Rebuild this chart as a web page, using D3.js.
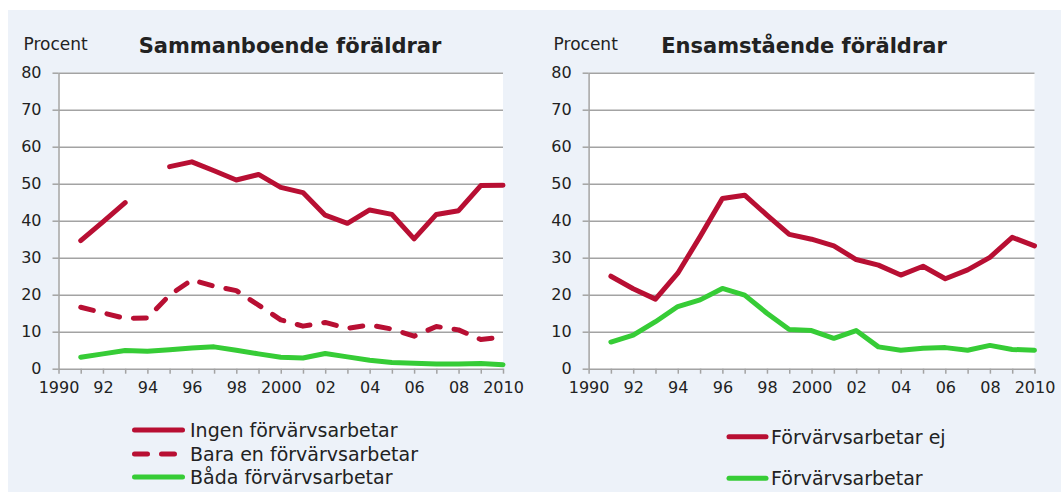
<!DOCTYPE html>
<html>
<head>
<meta charset="utf-8">
<script src="https://cdn.jsdelivr.net/npm/d3@7"></script>
<style>
  body { margin: 0; background: #fff; }
  svg text { font-family: "DejaVu Sans", sans-serif; fill: #222; }
</style>
</head>
<body>
<div id="chart"></div>
<script>
// years shown on the x axis (one point per year)
const years = [1991, 1992, 1993, 1994, 1995, 1996, 1997, 1998, 1999, 2000,
               2001, 2002, 2003, 2004, 2005, 2006, 2007, 2008, 2009, 2010];
const xTickYears = [1990, 1992, 1994, 1996, 1998, 2000, 2002, 2004, 2006, 2008, 2010];
const xTickLabels = ["1990", "92", "94", "96", "98", "2000", "02", "04", "06", "08", "2010"];
const yTicks = [0, 10, 20, 30, 40, 50, 60, 70, 80];

// Sammanboende föräldrar
const ingen = [34.6, 39.7, 44.9, null, 54.6, 55.9, 53.5, 51.0, 52.5, 49.0,
               47.6, 41.5, 39.3, 42.9, 41.7, 35.1, 41.7, 42.7, 49.5, 49.6];
const baraEn = [16.6, 15.1, 13.6, 13.7, 19.9, 24.0, 22.3, 21.1, 17.2, 13.2,
                11.5, 12.5, 10.9, 11.8, 10.7, 8.8, 11.4, 10.5, 7.9, 8.5];
const bada = [3.1, 4.0, 4.9, 4.7, 5.1, 5.6, 5.9, 5.0, 4.0, 3.1,
              2.9, 4.1, 3.2, 2.3, 1.7, 1.5, 1.3, 1.3, 1.4, 1.1];

// Ensamstående föräldrar
const ejArbete = [25.0, 21.6, 18.8, 25.8, 35.7, 46.0, 46.9, 41.5, 36.3, 35.0,
                  33.2, 29.5, 28.0, 25.3, 27.7, 24.3, 26.7, 30.1, 35.5, 33.2];
const arbete = [7.2, 9.1, 12.7, 16.8, 18.6, 21.7, 19.9, 15.0, 10.6, 10.3,
                8.2, 10.3, 5.9, 5.0, 5.5, 5.7, 5.0, 6.3, 5.2, 5.0];

const red = "#b80f33", green = "#36cc36", gridColor = "#a3a3a3";

const W = 1061, H = 493;
const svg = d3.select("#chart").append("svg")
    .attr("width", W)
    .attr("height", H);

// light background panel
svg.append("rect")
    .attr("x", 8).attr("y", 10)
    .attr("width", W - 8).attr("height", 482)
    .attr("fill", "#edf2f9");

const plotTop = 72.7, plotBottom = 368.7;

function drawPanel(left, right, title, titleX, series) {
    const x = d3.scaleLinear().domain([1990, 2010]).range([left, right]);
    const y = d3.scaleLinear().domain([0, 80]).range([plotBottom, plotTop]);
    const g = svg.append("g");

    g.append("rect")
        .attr("x", left).attr("y", plotTop)
        .attr("width", right - left).attr("height", plotBottom - plotTop)
        .attr("fill", "#fff");

    // y axis with gridlines
    const yAxis = g.append("g")
        .attr("transform", `translate(${left},0)`)
        .call(d3.axisLeft(y).tickValues(yTicks).tickSize(6).tickPadding(11).tickSizeOuter(0));
    yAxis.select(".domain").attr("stroke", gridColor).attr("stroke-width", 1.5);
    yAxis.selectAll(".tick line").attr("stroke", gridColor).attr("stroke-width", 1.5);
    yAxis.selectAll(".tick text").attr("font-size", 16).attr("fill", "#222")
        .attr("font-family", "DejaVu Sans");
    yAxis.selectAll(".tick").filter(d => d > 0).append("line")
        .attr("x1", 0).attr("x2", right - left)
        .attr("stroke", gridColor).attr("stroke-width", 1.5);

    // x axis: a tick every year, labels every second year
    const xAxis = g.append("g")
        .attr("transform", `translate(0,${plotBottom})`)
        .call(d3.axisBottom(x).tickValues(d3.range(1990, 2011)).tickSize(5).tickSizeOuter(0)
            .tickFormat(d => {
                const i = xTickYears.indexOf(d);
                return i >= 0 ? xTickLabels[i] : "";
            }));
    xAxis.select(".domain").attr("stroke", gridColor).attr("stroke-width", 1.5);
    xAxis.selectAll(".tick line").attr("stroke", gridColor).attr("stroke-width", 1.5);
    xAxis.selectAll(".tick text").attr("font-size", 16).attr("fill", "#222")
        .attr("font-family", "DejaVu Sans").attr("dy", "1.05em");

    // titles
    g.append("text")
        .attr("x", left - 35).attr("y", 50)
        .attr("font-size", 17).attr("fill", "#333")
        .text("Procent");
    g.append("text")
        .attr("x", titleX).attr("y", 53)
        .attr("text-anchor", "middle")
        .attr("font-size", 21).attr("font-weight", "bold").attr("fill", "#111")
        .text(title);

    // lines
    const line = d3.line()
        .defined(d => d[1] != null)
        .x(d => x(d[0]))
        .y(d => y(d[1]));
    series.forEach(s => {
        g.append("path")
            .datum(years.map((yr, i) => [yr, s.values[i]]))
            .attr("fill", "none")
            .attr("stroke", s.color)
            .attr("stroke-width", 5)
            .attr("stroke-linejoin", "round")
            .attr("stroke-linecap", "round")
            .attr("stroke-dasharray", s.dash || null)
            .attr("d", line);
    });
}

drawPanel(58.5, 503, "Sammanboende föräldrar", 290, [
    {values: ingen, color: red},
    {values: baraEn, color: red, dash: "13,14"},
    {values: bada, color: green}
]);
drawPanel(588.6, 1034.5, "Ensamstående föräldrar", 804, [
    {values: ejArbete, color: red},
    {values: arbete, color: green}
]);

// legends
function legend(items, x1, x2, tx) {
    const lg = svg.append("g").attr("class", "legend");
    items.forEach(it => {
        lg.append("line")
            .attr("x1", x1).attr("x2", it.dash ? x2 - 8 : x2)
            .attr("y1", it.y).attr("y2", it.y)
            .attr("stroke", it.color)
            .attr("stroke-width", 5)
            .attr("stroke-linecap", "round")
            .attr("stroke-dasharray", it.dash || null);
        lg.append("text")
            .attr("x", tx).attr("y", it.y)
            .attr("dy", "0.36em")
            .attr("font-size", 19)
            .text(it.label);
    });
}
legend([
    {label: "Ingen förvärvsarbetar", color: red, y: 430},
    {label: "Bara en förvärvsarbetar", color: red, y: 454, dash: "13,14"},
    {label: "Båda förvärvsarbetar", color: green, y: 477}
], 134.5, 182.5, 190);
legend([
    {label: "Förvärvsarbetar ej", color: red, y: 436.7},
    {label: "Förvärvsarbetar", color: green, y: 478.3}
], 729, 766, 771);
</script>
</body>
</html>
